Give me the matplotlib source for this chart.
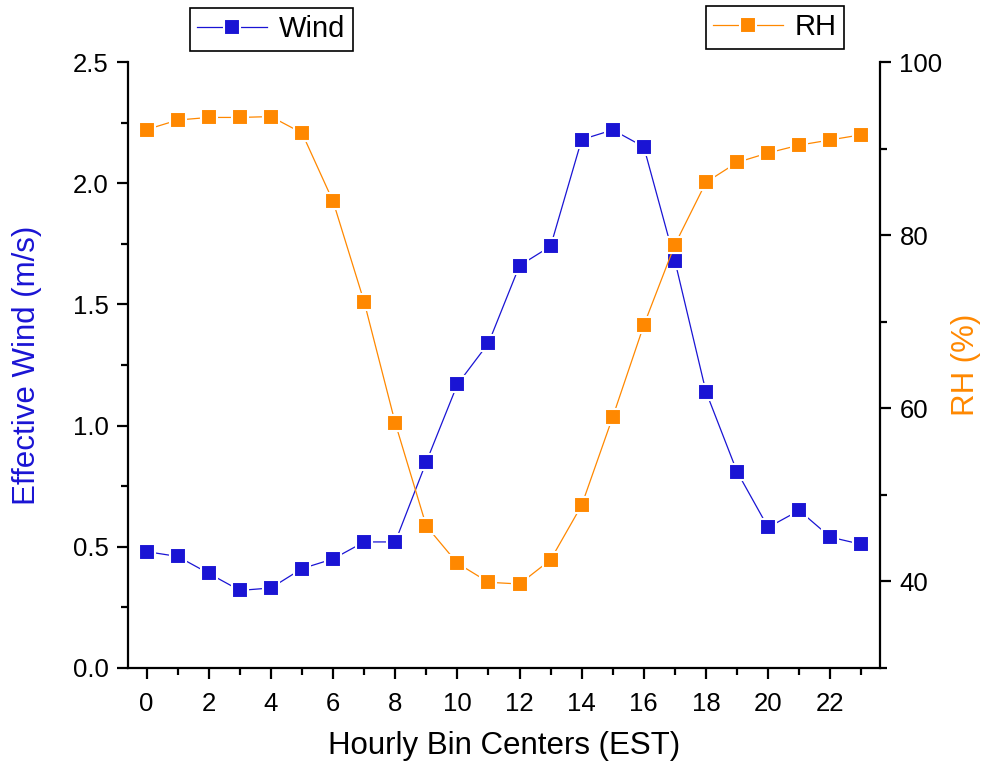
import matplotlib
matplotlib.use("Agg")
import matplotlib.pyplot as plt
from matplotlib.ticker import MultipleLocator, FormatStrFormatter

plt.rcParams['font.family'] = ['Liberation Sans', 'DejaVu Sans']

hours = list(range(24))
wind = [0.48, 0.46, 0.39, 0.32, 0.33, 0.41, 0.45, 0.52, 0.52, 0.85,
        1.17, 1.34, 1.66, 1.74, 2.18, 2.22, 2.15, 1.68, 1.14, 0.81,
        0.58, 0.65, 0.54, 0.51]
rh = [92.2, 93.3, 93.6, 93.6, 93.7, 91.8, 83.9, 72.3, 58.3, 46.4,
      42.1, 39.9, 39.7, 42.5, 48.8, 59.0, 69.6, 78.9, 86.1, 88.4,
      89.5, 90.4, 91.0, 91.6]

blue = '#1a14d4'
orange = '#ff8800'

fig = plt.figure(figsize=(9.81, 7.64), dpi=100)
ax = fig.add_axes([0.1305, 0.1257, 0.7665, 0.7931])
ax2 = ax.twinx()

# thin line, then square markers with a white rim so the line stops short of them
ax.plot(hours, wind, color=blue, lw=0.9, zorder=2)
ax.plot(hours, wind, ls='none', marker='s', ms=11, mfc=blue,
        mec='white', mew=1.5, zorder=3)
ax2.plot(hours, rh, color=orange, lw=0.9, zorder=2)
ax2.plot(hours, rh, ls='none', marker='s', ms=11, mfc=orange,
         mec='white', mew=1.5, zorder=3)

ax.set_xlim(-0.6, 23.6)
ax.set_ylim(0, 2.5)
ax2.set_ylim(30, 100)

ax.xaxis.set_major_locator(MultipleLocator(2))
ax.xaxis.set_minor_locator(MultipleLocator(1))
ax.yaxis.set_major_locator(MultipleLocator(0.5))
ax.yaxis.set_minor_locator(MultipleLocator(0.25))
ax.yaxis.set_major_formatter(FormatStrFormatter('%.1f'))
ax2.yaxis.set_major_locator(MultipleLocator(20))
ax2.yaxis.set_minor_locator(MultipleLocator(10))

for a in (ax, ax2):
    a.spines['top'].set_visible(False)
    for s in a.spines.values():
        s.set_linewidth(1.6)
    a.tick_params(which='major', direction='out', length=8, width=1.6,
                  labelsize=18.5, pad=6)
    a.tick_params(which='minor', direction='out', length=5, width=1.6)
ax.tick_params(axis='x', which='major', pad=9)
ax.spines['right'].set_visible(False)
ax2.spines['left'].set_visible(False)
ax2.spines['bottom'].set_visible(False)

ax.set_xlabel('Hourly Bin Centers (EST)', fontsize=22.5, labelpad=11)
ax.set_ylabel('Effective Wind (m/s)', fontsize=22.5, color=blue, labelpad=22)
ax2.set_ylabel('RH (%)', fontsize=22.5, color=orange, labelpad=6)

hw = plt.Line2D([], [], color=blue, lw=0.9, alpha=0.6, marker='s', ms=11,
                mfc=blue, mec='white', mew=1.5)
hr = plt.Line2D([], [], color=orange, lw=0.9, alpha=0.6, marker='s', ms=11,
                mfc=orange, mec='white', mew=1.5)
lw_ = fig.legend([hw], ['Wind'], loc='upper left',
                 bbox_to_anchor=(190 / 981, 1 - 8 / 764), fontsize=21,
                 fancybox=False, edgecolor='black', framealpha=1,
                 handlelength=2.4, borderpad=0.25, handletextpad=0.4,
                 borderaxespad=0)
lr = fig.legend([hr], ['RH'], loc='upper left',
                bbox_to_anchor=(706 / 981, 1 - 6 / 764), fontsize=21,
                fancybox=False, edgecolor='black', framealpha=1,
                handlelength=2.4, borderpad=0.25, handletextpad=0.4,
                borderaxespad=0)
for lg in (lw_, lr):
    lg.get_frame().set_linewidth(1.2)
    for h in lg.legend_handles:
        h.set_alpha(1)

fig.savefig('out.png', dpi=100)
